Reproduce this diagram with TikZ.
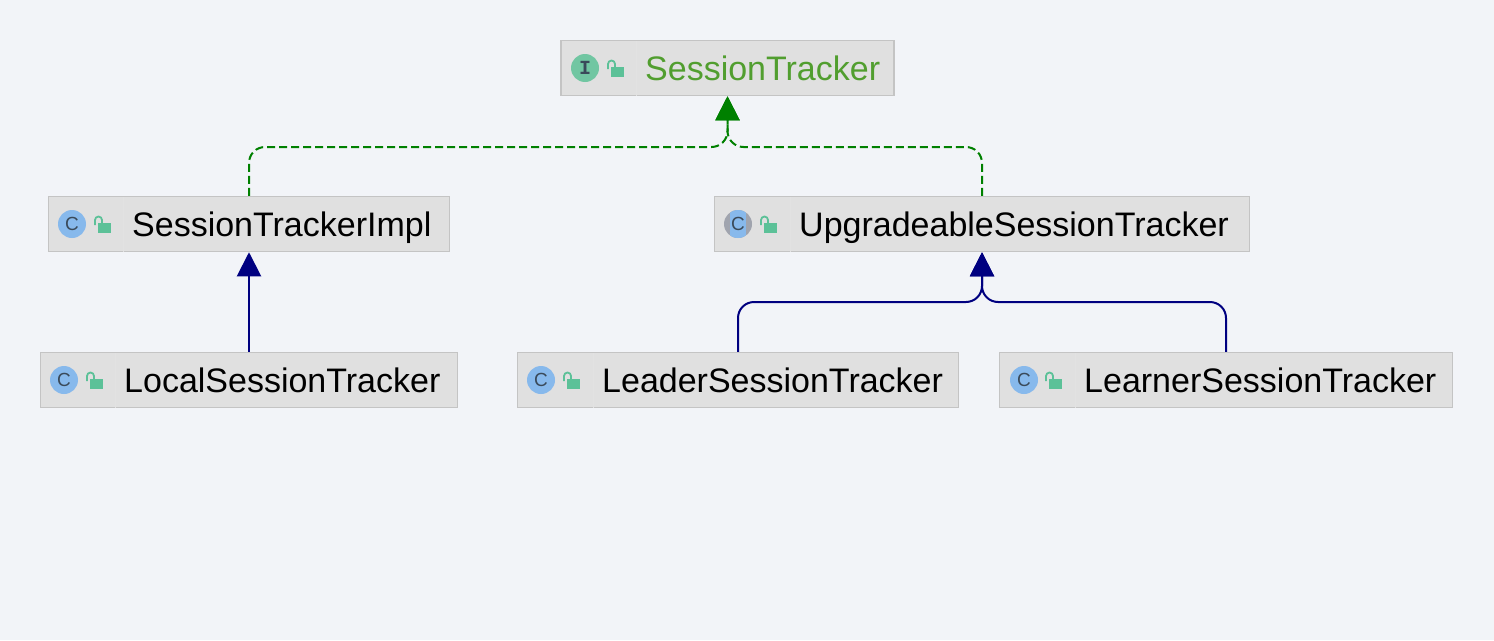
\documentclass[tikz,border=0pt]{standalone}
\usepackage{fontspec}
\setmainfont{Liberation Sans}
\newfontfamily\slabfont{Liberation Mono}
\usetikzlibrary{arrows.meta}
\definecolor{paper}{HTML}{F2F4F8}
\definecolor{boxfill}{HTML}{E0E0E0}
\definecolor{boxline}{HTML}{C4C4C4}
\definecolor{cellline}{HTML}{E2E2E2}
\definecolor{ifacetext}{HTML}{519E2F}
\definecolor{ifacedot}{HTML}{71C6A2}
\definecolor{classdot}{HTML}{87B9EC}
\definecolor{abstractdot}{HTML}{A0A4AE}
\definecolor{lockgreen}{HTML}{5CC198}
\definecolor{glyph}{HTML}{3A4A5A}
\definecolor{implgreen}{HTML}{008000}
\definecolor{extblue}{HTML}{000080}
\tikzset{
  classbox/.style={draw=boxline,fill=boxfill,line width=1.5pt,minimum height=55pt,inner sep=0pt},
  classname/.style={anchor=base west,inner sep=0pt,font=\fontsize{34}{34}\selectfont},
  dot/.style={circle,minimum size=28pt,inner sep=0pt,text=glyph,font=\fontsize{19}{19}\selectfont},
  implements/.style={draw=implgreen,line width=2pt,dash pattern=on 8pt off 4pt,rounded corners=16pt,-{Triangle[width=24pt,length=24pt]}},
  extends/.style={draw=extblue,line width=2pt,rounded corners=16pt,-{Triangle[width=24pt,length=24pt]}}
}
\newcommand{\lockicon}[2]{
  \fill[lockgreen] (#1+3,#2-1) rectangle (#1+15.5,#2+9);
  \draw[lockgreen,line width=1.8pt] (#1,#2+1) -- (#1,#2-4) arc[start angle=180,end angle=0,radius=3.5pt] -- (#1+7,#2-1);
}
\begin{document}
\begin{tikzpicture}[x=1pt,y=-1pt]
  \fill[paper] (0,0) rectangle (1494,640);
  \useasboundingbox (0,0) rectangle (1494,640);

  % boxes
  \node[classbox,minimum width=333pt] (tracker) at (727.5,68) {};
  \node[classbox,minimum width=401pt] (impl) at (249,224) {};
  \node[classbox,minimum width=535pt] (upgrade) at (982,224) {};
  \node[classbox,minimum width=417pt] (local) at (249,380) {};
  \node[classbox,minimum width=441pt] (leader) at (738,380) {};
  \node[classbox,minimum width=453pt] (learner) at (1226,380) {};
  \foreach \name/\x in {tracker/636,impl/123,upgrade/790,local/115,leader/593,learner/1075}
    \draw[cellline,line width=1pt] (\x,0 |- \name.north) ++(0,1) -- (\x,0 |- \name.south);

  % names
  \node[classname,text=ifacetext] (trackername) at (645,80) {SessionTracker};
  \node[classname] (implname) at (132,236) {SessionTrackerImpl};
  \node[classname] (upgradename) at (799,236) {UpgradeableSessionTracker};
  \node[classname] (localname) at (124,392) {LocalSessionTracker};
  \node[classname] (leadername) at (602,392) {LeaderSessionTracker};
  \node[classname] (learnername) at (1084,392) {LearnerSessionTracker};

  % icons
  \node[dot,fill=ifacedot,font=\fontsize{20}{20}\slabfont\bfseries] (trackerdot) at (585,68) {I};
  \node[dot,fill=classdot] (impldot) at (72,224) {C};
  \node[dot,fill=abstractdot] (upgradedot) at (738,224) {};
  \begin{scope}
    \clip (738,224) circle[radius=14pt];
    \fill[classdot] (730,210) rectangle (746,238);
  \end{scope}
  \node[dot] (upgradeletter) at (738,224) {C};
  \node[dot,fill=classdot] (localdot) at (64,380) {C};
  \node[dot,fill=classdot] (leaderdot) at (541,380) {C};
  \node[dot,fill=classdot] (learnerdot) at (1024,380) {C};
  \lockicon{608}{68}
  \lockicon{95}{224}
  \lockicon{761}{224}
  \lockicon{87}{380}
  \lockicon{564}{380}
  \lockicon{1046}{380}

  % connectors
  \coordinate (impljoin) at (727.5,147);
  \coordinate (extjoin) at (982,302);
  \draw[implements] (impl.north) |- (impljoin) -- (tracker.south);
  \draw[implements] (upgrade.north) |- (impljoin) -- (tracker.south);
  \draw[extends] (local.north) -- (impl.south);
  \draw[extends] (leader.north) |- (extjoin) -- (upgrade.south);
  \draw[extends] (learner.north) |- (extjoin) -- (upgrade.south);
\end{tikzpicture}
\end{document}
